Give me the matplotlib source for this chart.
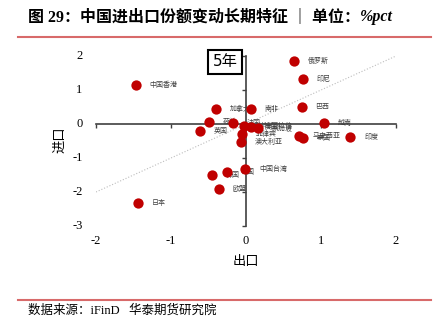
import matplotlib.pyplot as plt
from matplotlib.lines import Line2D
from matplotlib.transforms import blended_transform_factory

plt.rcParams['font.family'] = ['Liberation Serif', 'Noto Sans CJK SC']

# 近5年出口份额、进口份额变动（%pct）
names = ['中国香港', '俄罗斯', '印尼', '巴西', '越南', '印度', '马来西亚', '泰国',
         '加拿大', '南非', '英国', '荷兰', '法国', '沙特阿拉伯', '美国', '新加坡',
         '菲律宾', '澳大利亚', '韩国', '德国', '中国台湾', '欧盟', '日本']
export_chg = [-1.47, 0.64, 0.76, 0.74, 1.04, 1.39, 0.70, 0.76,
              -0.40, 0.06, -0.62, -0.49, -0.17, -0.03, 0.06, 0.16,
              -0.05, -0.07, -0.45, -0.26, -0.01, -0.36, -1.44]
import_chg = [1.15, 1.85, 1.32, 0.49, 0.04, -0.39, -0.35, -0.42,
              0.43, 0.44, -0.21, 0.06, 0.04, -0.06, -0.09, -0.13,
              -0.30, -0.53, -1.50, -1.40, -1.32, -1.91, -2.31]

x_ticks = [-2, -1, 0, 1, 2]
y_ticks = [-3, -2, -1, 0, 1, 2]

axis_color = '#404040'
dot_color = '#c00000'
rule_color = '#d86a6a'

fig = plt.figure(figsize=(4.46, 3.23), dpi=100)
ax = fig.add_axes([96 / 446, 1 - 226 / 323, 300 / 446, 170 / 323])
ax.set_xlim(x_ticks[0], x_ticks[-1])
ax.set_ylim(y_ticks[0], y_ticks[-1])

# 坐标轴穿过原点
for s in ['top', 'right']:
    ax.spines[s].set_visible(False)
for s in ['left', 'bottom']:
    ax.spines[s].set_position(('data', 0))
    ax.spines[s].set_color(axis_color)
    ax.spines[s].set_linewidth(1.2)
ax.set_xticks(x_ticks)
ax.set_yticks(y_ticks)
ax.tick_params(length=3, width=1, color=axis_color, direction='out',
               labelbottom=False, labelleft=False)

# 刻度标签放在图框边缘
ty = blended_transform_factory(ax.transAxes, ax.transData)
for t in y_ticks:
    ax.text(-0.045, t, str(t), transform=ty, ha='right', va='center', fontsize=9)
tx = blended_transform_factory(ax.transData, ax.transAxes)
for t in x_ticks:
    ax.text(t, -0.088, str(t), transform=tx, ha='center', va='center', fontsize=9)

# 45度参考线
diag = [x_ticks[0], x_ticks[-1]]
ax.plot(diag, diag, ls=':', color='#bdbdbd', lw=0.8, zorder=1)

ax.scatter(export_chg, import_chg, s=55, color=dot_color, linewidths=0, zorder=3,
           clip_on=False)
for n, x, y in zip(names, export_chg, import_chg):
    ax.annotate(n, (x, y), xytext=(10, 0), textcoords='offset points',
                fontsize=5, ha='left', va='center', color='#404040',
                family='Noto Sans CJK SC', zorder=2)

ax.text(0.43, 0.965, '5年', transform=ax.transAxes, ha='center', va='center',
        fontsize=11, family=['DejaVu Sans', 'Noto Sans CJK SC'],
        bbox=dict(boxstyle='square,pad=0.3', fc='white', ec='black', lw=1.5))

fig.text(246 / 446, 1 - 262 / 323, '出口', ha='center', va='center', fontsize=9.5,
         family='Noto Sans CJK SC')
fig.text(60 / 446, 1 - 140 / 323, '进口', ha='center', va='center', fontsize=9.5,
         rotation=90, family='Noto Sans CJK SC')

# 标题与来源
title = fig.text(28 / 446, 1 - 17 / 323, '图 29：中国进出口份额变动长期特征 ｜ 单位：',
                 fontsize=11.5, fontweight='bold', va='center')
fig.canvas.draw()
bb = title.get_window_extent()
fig.text(bb.x1 / 446, 1 - 17 / 323, '%pct', fontsize=11.5, fontweight='bold',
         style='italic', va='center')
fig.add_artist(Line2D([18 / 446, 431 / 446], [1 - 37 / 323] * 2, color=rule_color, lw=1.5))
fig.add_artist(Line2D([18 / 446, 431 / 446], [1 - 300 / 323] * 2, color=rule_color, lw=1.5))
fig.text(28 / 446, 1 - 311 / 323, '数据来源：iFinD   华泰期货研究院', fontsize=9, va='center')

fig.savefig('out.png', dpi=100)
